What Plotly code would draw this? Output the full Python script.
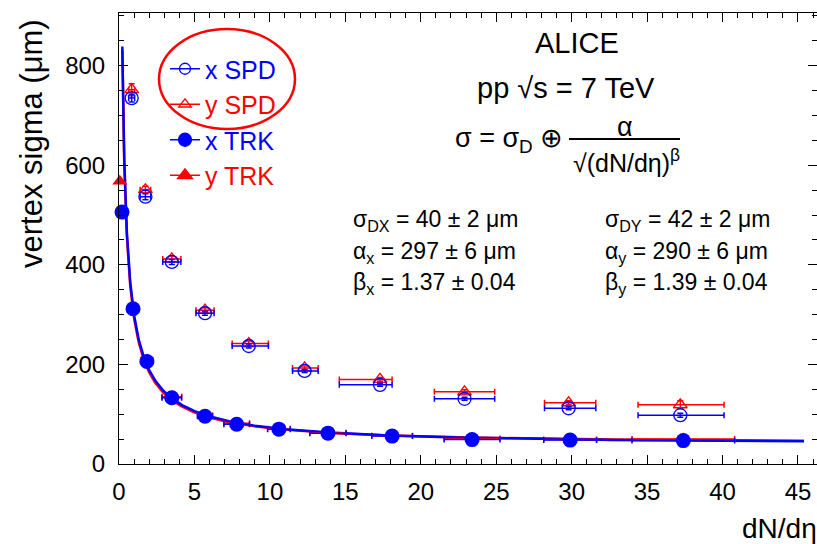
import numpy as np
import plotly.graph_objects as go

# ---------------- data ----------------
spd_x_mult = [0.84, 1.75, 3.5, 5.7, 8.6, 12.3, 17.3, 22.9, 29.8, 37.2]
spd_x_sig = [735, 537, 406, 303, 237, 187, 159, 131, 112, 98]
spd_y_sig = [752, 551, 412, 309, 242, 193, 170, 145, 123, 119]
spd_xerr_plus = [0.2, 0.35, 0.6, 0.6, 1.3, 0.9, 0.8, 2.0, 1.8, 2.9]
spd_xerr_minus = [0.2, 0.35, 0.6, 0.6, 1.1, 0.8, 2.7, 2.0, 1.6, 2.8]
spd_x_yerr = [8, 6, 5, 4, 4, 3, 3, 3, 3, 4]
spd_y_yerr = [12, 7, 6, 5, 5, 4, 4, 4, 4, 8]

trk_x_mult = [0.2, 0.93, 1.85, 3.5, 5.7, 7.8, 10.6, 13.85, 18.1, 23.4, 29.9, 37.4]
trk_y_mult = [0.05, 0.93, 1.85, 3.5, 5.7, 7.8, 10.6, 13.85, 18.1, 23.4, 29.9, 37.4]
trk_x_sig = [506, 312, 206, 133, 96, 80, 70, 62, 56, 49, 48, 47]
trk_y_sig = [568, 315, 209, 135, 98, 82, 71, 63, 57, 51, 49, 50]
trk_xerr = [0.0, 0.25, 0.4, 0.65, 0.5, 0.85, 0.75, 1.2, 1.35, 1.85, 1.75, 3.4]

# fit parameters shown on the chart: sigma_D, alpha, beta
fit_x_params = [40, 297, 1.37]
fit_y_params = [42, 290, 1.39]
fit_range = [0.22, 45.4]

x_ticks = [0, 5, 10, 15, 20, 25, 30, 35, 40, 45]
y_ticks = [0, 200, 400, 600, 800]

BLUE = "#0000ff"
RED = "#ff0000"
FONT = "Liberation Sans, Arial, sans-serif"

W, H = 817, 544
L, R, T, B = 119, 0, 13, 80
PW, PH = W - L - R, H - T - B


def px(x):
    return (x - L) / PW


def py(y):
    return (H - B - y) / PH


def fit(p, x):
    sd, a, b = p
    return np.sqrt(sd ** 2 + a ** 2 / x ** b)


xs = np.geomspace(fit_range[0], fit_range[1], 400)

fig = go.Figure()

# fit curves
fig.add_trace(go.Scatter(x=xs, y=fit(fit_y_params, xs), mode="lines",
                         line=dict(color=RED, width=2.5), showlegend=False))
fig.add_trace(go.Scatter(x=xs, y=fit(fit_x_params, xs), mode="lines",
                         line=dict(color=BLUE, width=2.5), showlegend=False))

# SPD
fig.add_trace(go.Scatter(
    x=spd_x_mult, y=spd_y_sig, mode="markers", showlegend=False,
    marker=dict(symbol="triangle-up-open", size=12, color=RED, line=dict(width=1.3)),
    error_x=dict(type="data", array=spd_xerr_plus, arrayminus=spd_xerr_minus,
                 color=RED, thickness=1.5, width=3),
    error_y=dict(type="data", array=spd_y_yerr, color=RED, thickness=1.5, width=3)))
fig.add_trace(go.Scatter(
    x=spd_x_mult, y=spd_x_sig, mode="markers", showlegend=False,
    marker=dict(symbol="circle-open", size=13, color=BLUE, line=dict(width=1.3)),
    error_x=dict(type="data", array=spd_xerr_plus, arrayminus=spd_xerr_minus,
                 color=BLUE, thickness=1.5, width=3),
    error_y=dict(type="data", array=spd_x_yerr, color=BLUE, thickness=1.5, width=3)))

# TRK
fig.add_trace(go.Scatter(
    x=trk_y_mult, y=trk_y_sig, mode="markers", showlegend=False, cliponaxis=False,
    marker=dict(symbol="triangle-up", size=13, color=RED),
    error_x=dict(type="data", array=trk_xerr, color=RED, thickness=1.5, width=3)))
fig.add_trace(go.Scatter(
    x=trk_x_mult, y=trk_x_sig, mode="markers", showlegend=False, cliponaxis=False,
    marker=dict(symbol="circle", size=15, color=BLUE),
    error_x=dict(type="data", array=trk_xerr, color=BLUE, thickness=1.5, width=3)))

# legend entries
leg = [("x SPD", BLUE, "circle-open", 11),
       ("y SPD", RED, "triangle-up-open", 11),
       ("x TRK", BLUE, "circle", 13),
       ("y TRK", RED, "triangle-up", 13)]
for name, col, sym, sz in leg:
    fig.add_trace(go.Scatter(
        x=[None], y=[None], mode="lines+markers",
        name=f'<span style="color:{col}">{name}</span>',
        line=dict(color=col, width=1.5),
        marker=dict(symbol=sym, size=sz, color=col, line=dict(width=1.3, color=col))))

ann = []


def text(t, x, y, size, xanchor="left", yanchor="middle", angle=0):
    ann.append(dict(text=t, x=px(x), y=py(y), xref="paper", yref="paper",
                    xanchor=xanchor, yanchor=yanchor, showarrow=False,
                    textangle=angle, font=dict(family=FONT, size=size, color="black")))


text("ALICE", 577, 43, 29, xanchor="center")
text("pp √s = 7 TeV", 566, 88, 29, xanchor="center")
text("σ = σ<sub>D</sub> ⊕", 565, 140, 27, xanchor="right")
text("α", 625, 127, 27, xanchor="center")
text("√(dN/dη)<sup>β</sup>", 571, 161, 25, xanchor="left")

text("σ<sub>DX</sub> = 40 ± 2 μm", 351, 220, 23)
text("α<sub>x</sub> = 297 ± 6 μm", 351, 252, 23)
text("β<sub>x</sub> = 1.37 ± 0.04", 351, 283, 23)
text("σ<sub>DY</sub> = 42 ± 2 μm", 603, 220, 23)
text("α<sub>y</sub> = 290 ± 6 μm", 603, 252, 23)
text("β<sub>y</sub> = 1.39 ± 0.04", 603, 283, 23)

text("vertex sigma (μm)", 32, 144, 31, xanchor="center", angle=-90)
text("dN/dη", 740, 528, 28, xanchor="left")

shapes = [
    dict(type="line", xref="paper", yref="paper", x0=px(569), x1=px(680),
         y0=py(139), y1=py(139), line=dict(color="black", width=2)),
    dict(type="circle", xref="paper", yref="paper", x0=px(159), x1=px(295),
         y0=py(129), y1=py(29), line=dict(color=RED, width=2.5)),
]

axis_common = dict(showline=True, linecolor="black", linewidth=1, mirror="allticks",
                   ticks="inside", ticklen=9, tickwidth=1, tickcolor="black",
                   showgrid=False, zeroline=False,
                   tickfont=dict(family=FONT, size=24, color="black"))

fig.update_layout(
    width=W, height=H, margin=dict(l=L, r=R, t=T, b=B),
    paper_bgcolor="white", plot_bgcolor="white",
    xaxis=dict(range=[0, 46.26], tickvals=x_ticks, ticktext=[str(v) for v in x_ticks],
               ticklabelstandoff=6,
               minor=dict(ticks="inside", ticklen=5, dtick=1, tickcolor="black", showgrid=False),
               **axis_common),
    yaxis=dict(range=[0, 906], tickvals=y_ticks, ticktext=[str(v) for v in y_ticks],
               ticklabelstandoff=8,
               minor=dict(ticks="inside", ticklen=5, dtick=50, tickcolor="black", showgrid=False),
               **axis_common),
    legend=dict(x=px(165), y=py(46), xanchor="left", yanchor="top",
                bgcolor="rgba(0,0,0,0)", font=dict(family=FONT, size=25),
                itemwidth=30, tracegroupgap=0),
    annotations=ann, shapes=shapes,
)

fig.write_html("out.html")
